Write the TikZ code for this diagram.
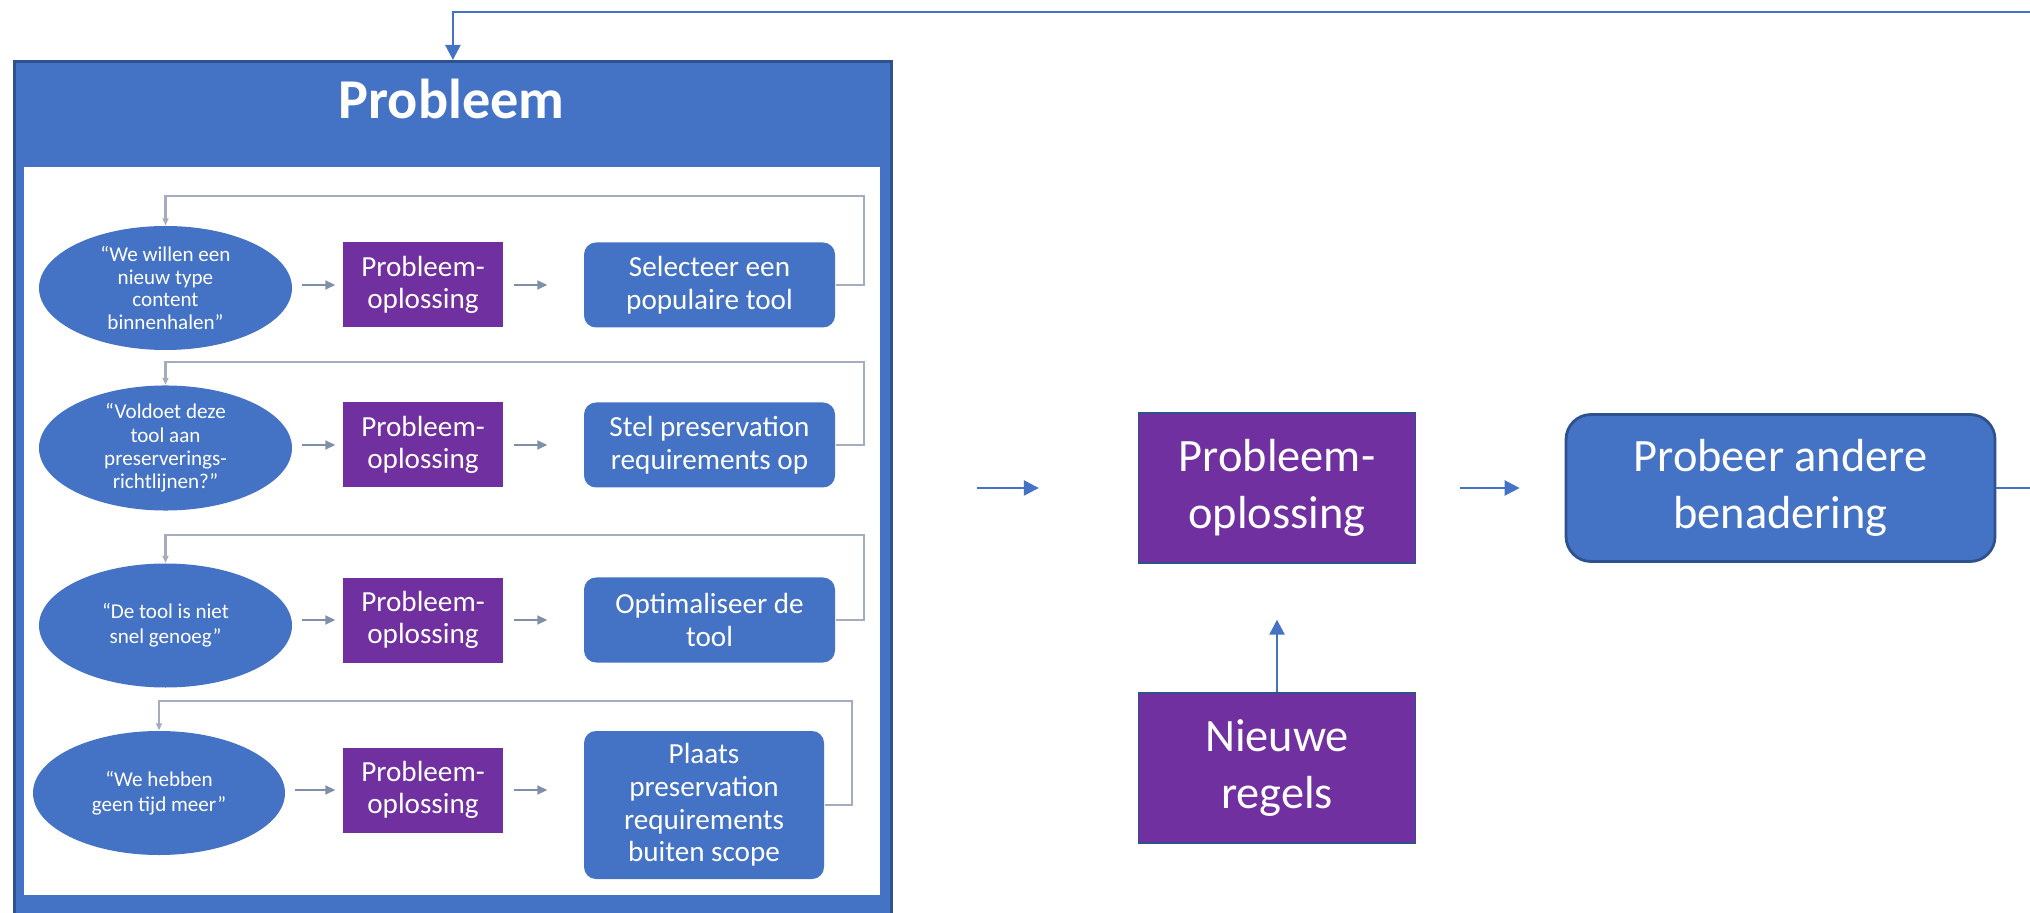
\documentclass[tikz,border=0pt]{standalone}
\usepackage{fontspec}
\setmainfont{Carlito}
\usetikzlibrary{arrows.meta,shapes.geometric}
\definecolor{kblue}{HTML}{4472C4}
\definecolor{kdark}{HTML}{2F528F}
\definecolor{kpurple}{HTML}{7030A0}
\definecolor{kgrey}{HTML}{A3ADBF}
\definecolor{kpijl}{HTML}{7F8FA9}

\begin{document}
\begin{tikzpicture}[
  font=\fontsize{13.2}{16.3}\selectfont,
  oplos/.style={fill=kpurple,draw=kdark,thin,text=white,align=center,inner sep=0pt,minimum width=2.77cm,minimum height=1.5cm},
  actie/.style={fill=kblue,draw=kdark,thick,rounded corners=0.25cm,text=white,align=center,inner sep=0pt,minimum width=4.29cm,minimum height=1.47cm},
  pijl/.style={kblue,line width=0.7pt,-{Triangle[length=0.15cm,width=0.15cm]}},
  vraag/.style={ellipse,fill=kblue,text=white,align=center,inner sep=0pt,minimum width=2.53cm,minimum height=1.24cm,font=\fontsize{6}{7.2}\selectfont},
  kleinoplos/.style={fill=kpurple,text=white,align=center,inner sep=0pt,minimum width=1.6cm,minimum height=0.85cm,font=\fontsize{8.3}{9.3}\selectfont},
  kleinactie/.style={fill=kblue,rounded corners=0.12cm,text=white,align=center,inner sep=0pt,minimum width=2.51cm,minimum height=0.85cm,font=\fontsize{8.3}{9.3}\selectfont},
  kleinpijl/.style={kpijl,line width=0.5pt,-{Triangle[length=0.1cm,width=0.09cm]}},
  terug/.style={kgrey,line width=0.6pt,-{Triangle[length=0.07cm,width=0.06cm]}}
]
\useasboundingbox (0,0) rectangle (20.3,9.12);
\clip (0,0) rectangle (20.3,9.12);

\node[draw=kdark,line width=0.8pt,fill=kblue,anchor=north west,minimum width=8.77cm,minimum height=8.7cm,inner sep=0pt] (probleem) at (0.13,8.52) {};
\node[text=white,font=\fontsize{16}{19}\selectfont\bfseries] (titel) at (4.515,8.13) {Probleem};
\fill[white] (0.24,7.45) rectangle (8.80,0.17);

\node[vraag,font=\fontsize{6}{6.4}\selectfont] (v1) at (1.655,6.24) {“We willen een\\nieuw type\\content\\binnenhalen”};
\node[kleinoplos] (o1) at (4.23,6.27) {Probleem-\\oplossing};
\node[kleinactie] (a1) at (7.095,6.27) {Selecteer een\\populaire tool};
\node[vraag,font=\fontsize{6}{6.6}\selectfont] (v2) at (1.655,4.64) {“Voldoet deze\\tool aan\\preserverings-\\richtlijnen?”};
\node[kleinoplos] (o2) at (4.23,4.67) {Probleem-\\oplossing};
\node[kleinactie] (a2) at (7.095,4.67) {Stel preservation\\requirements op};
\node[vraag] (v3) at (1.655,2.865) {“De tool is niet\\snel genoeg”};
\node[kleinoplos] (o3) at (4.23,2.92) {Probleem-\\oplossing};
\node[kleinactie] (a3) at (7.095,2.92) {Optimaliseer de\\tool};
\node[vraag,minimum width=2.52cm] (v4) at (1.59,1.19) {“We hebben\\geen tijd meer”};
\node[kleinoplos] (o4) at (4.23,1.22) {Probleem-\\oplossing};
\node[kleinactie,minimum width=2.4cm,minimum height=1.48cm] (a4) at (7.04,1.07) {Plaats\\preservation\\requirements\\buiten scope};

\draw[kleinpijl,shorten <=0.09cm,shorten >=0.07cm] (o1.west -| v1.east) -- (o1.west);
\draw[kleinpijl,shorten <=0.10cm,shorten >=0.36cm] (o1.east) -- (o1.east -| a1.west);
\draw[kleinpijl,shorten <=0.09cm,shorten >=0.07cm] (o2.west -| v2.east) -- (o2.west);
\draw[kleinpijl,shorten <=0.10cm,shorten >=0.36cm] (o2.east) -- (o2.east -| a2.west);
\draw[kleinpijl,shorten <=0.09cm,shorten >=0.07cm] (o3.west -| v3.east) -- (o3.west);
\draw[kleinpijl,shorten <=0.10cm,shorten >=0.36cm] (o3.east) -- (o3.east -| a3.west);
\draw[kleinpijl,shorten <=0.09cm,shorten >=0.07cm] (o4.west -| v4.east) -- (o4.west);
\draw[kleinpijl,shorten <=0.10cm,shorten >=0.36cm] (o4.east) -- (o4.east -| a4.west);

\draw[terug] (a1.east) -- ++(0.28,0) |- ([yshift=0.29cm]v1.north) -- (v1.north);
\draw[terug] (a2.east) -- ++(0.28,0) |- ([yshift=0.23cm]v2.north) -- (v2.north);
\draw[terug] (a3.east) -- ++(0.28,0) |- ([yshift=0.28cm]v3.north) -- (v3.north);
\draw[terug] (a4.east) -- ++(0.27,0) |- ([yshift=0.29cm]v4.north) -- (v4.north);

\node[oplos] (pbox) at (12.77,4.24) {Probleem-\\oplossing};
\node[actie] (benadering) at (17.805,4.24) {Probeer andere\\benadering};
\node[oplos] (nieuwe) at (12.77,1.44) {Nieuwe\\regels};
\coordinate (instroom) at (9.77,4.24);

\draw[pijl,shorten >=0.99cm] (instroom) -- (pbox);
\draw[pijl,shorten <=0.44cm,shorten >=0.45cm] (pbox) -- (benadering);
\draw[pijl,shorten >=0.56cm] (nieuwe) -- (pbox);
\draw[pijl] (benadering.east) -- ++(0.6,0) |- ([yshift=0.48cm]probleem.north) -- (probleem.north);
\end{tikzpicture}
\end{document}
